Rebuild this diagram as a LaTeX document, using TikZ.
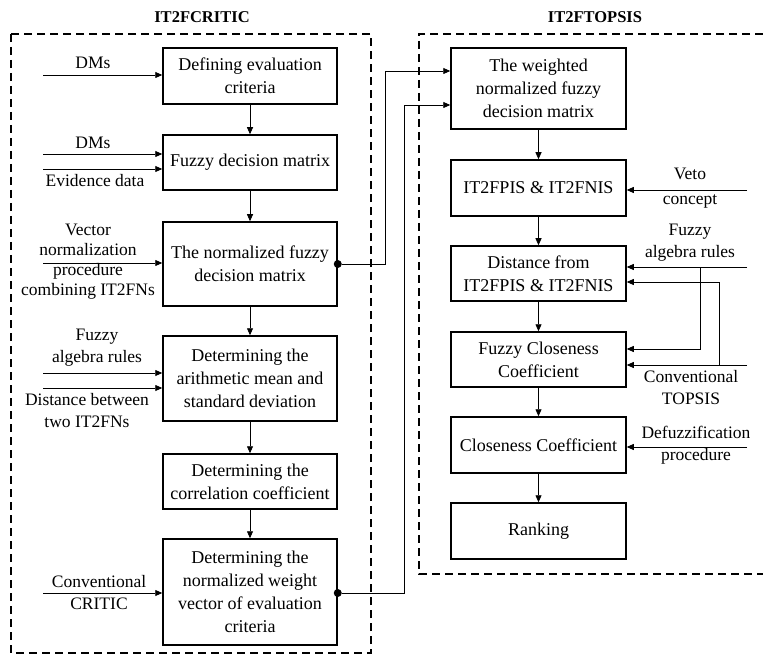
\documentclass[tikz,border=0pt]{standalone}
\usepackage{fontspec}
\setmainfont{Liberation Serif}
\usetikzlibrary{arrows.meta}
\begin{document}
\begin{tikzpicture}[x=1pt,y=-1pt,
  every node/.style={font=\fontsize{17.5}{22}\selectfont, inner sep=0pt},
  procbox/.style={draw, line width=1.5pt, align=center, minimum width=#1, font=\fontsize{18}{23}\selectfont},
  procbox/.default=174pt,
  lbl/.style={align=center},
  ttl/.style={font=\fontsize{16.5}{22}\selectfont\bfseries},
  arr/.style={line width=0.8pt, -{Triangle[length=7pt,width=6pt]}},
  link/.style={line width=0.8pt},
  group/.style={line width=1.4pt, dash pattern=on 8pt off 5pt},
  dot/.style={circle, fill, inner sep=0pt, minimum size=8pt}]
\useasboundingbox (0,0) rectangle (763,655);

% group frames
\draw[group] (11,34) rectangle (371,653);
\draw[group] (763,34) -- (419,34) -- (419,574) -- (763,574);
\node[ttl] (t1) at (202,17) {IT2FCRITIC};
\node[ttl] (t2) at (595,17) {IT2FTOPSIS};

% left boxes
\node[procbox, minimum height=56pt] (b1) at (250,76) {Defining evaluation\\criteria};
\node[procbox, minimum height=55pt] (b2) at (250,162.5) {Fuzzy decision matrix};
\node[procbox, minimum height=84pt] (b3) at (250,264) {The normalized fuzzy\\decision matrix};
\node[procbox, minimum height=85pt] (b4) at (250,378.5) {Determining the\\arithmetic mean and\\standard deviation};
\node[procbox, minimum height=55pt] (b5) at (250,481.5) {Determining the\\correlation coefficient};
\node[procbox, minimum height=106pt] (b6) at (250,592) {Determining the\\normalized weight\\vector of evaluation\\criteria};

% right boxes
\node[procbox=175pt, minimum height=81pt] (b7) at (538.5,88.5) {The weighted\\normalized fuzzy\\decision matrix};
\node[procbox=175pt, minimum height=56pt] (b8) at (538.5,188) {IT2FPIS \& IT2FNIS};
\node[procbox=175pt, minimum height=55pt] (b9) at (538.5,273.5) {Distance from\\IT2FPIS \& IT2FNIS};
\node[procbox=175pt, minimum height=55pt] (b10) at (538.5,359.5) {Fuzzy Closeness\\Coefficient};
\node[procbox=175pt, minimum height=56pt] (b11) at (538.5,445) {Closeness Coefficient};
\node[procbox=175pt, minimum height=56pt] (b12) at (538.5,531) {Ranking};

% vertical flow
\draw[arr] (b1) -- (b2);
\draw[arr] (b2) -- (b3);
\draw[arr] (b3) -- (b4);
\draw[arr] (b4) -- (b5);
\draw[arr] (b5) -- (b6);
\draw[arr] (b7) -- (b8);
\draw[arr] (b8) -- (b9);
\draw[arr] (b9) -- (b10);
\draw[arr] (b10) -- (b11);
\draw[arr] (b11) -- (b12);

% left inputs
\coordinate (i1) at (43,75);
\coordinate (i2) at (43,154);
\coordinate (i3) at (43,169);
\coordinate (i4) at (43,263);
\coordinate (i5) at (43,373);
\coordinate (i6) at (43,388);
\coordinate (i7) at (43,593);
\draw[arr] (i1) -- (i1 -| b1.west);
\draw[arr] (i2) -- (i2 -| b2.west);
\draw[arr] (i3) -- (i3 -| b2.west);
\draw[arr] (i4) -- (i4 -| b3.west);
\draw[arr] (i5) -- (i5 -| b4.west);
\draw[arr] (i6) -- (i6 -| b4.west);
\draw[arr] (i7) -- (i7 -| b6.west);

\node[lbl] (l1) at (93,63) {DMs};
\node[lbl] (l2) at (93,143) {DMs};
\node[lbl] (l3) at (95,181) {Evidence data};
\node[lbl, font=\fontsize{17.5}{20}\selectfont] (l4) at (88,262) {Vector\\normalization\\procedure\\combining IT2FNs};
\node[lbl] (l5) at (97,348) {Fuzzy\\algebra rules};
\node[lbl] (l6) at (87,410.5) {Distance between\\two IT2FNs};
\node[lbl] (l7) at (99,593) {Conventional\\CRITIC};

% links between groups
\node[dot] (d1) at (b3.east) {};
\node[dot] (d2) at (b6.east |- 0,593) {};
\coordinate (c1) at (385,71);
\coordinate (c2) at (404,105);
\draw[link] (d1) -| (c1);
\draw[arr] (c1) -- (c1 -| b7.west);
\draw[link] (d2) -| (c2);
\draw[arr] (c2) -- (c2 -| b7.west);

% right inputs
\coordinate (r1) at (747,190);
\coordinate (r2) at (747,267);
\coordinate (r3) at (747,365);
\coordinate (r4) at (747,447);
\coordinate (j1) at (700,267);
\coordinate (j2) at (719,365);
\coordinate (k1) at (700,349);
\coordinate (k2) at (719,282);
\draw[arr] (r1) -- (r1 -| b8.east);
\draw[arr] (r2) -- (r2 -| b9.east);
\draw[arr] (j1) -- (k1) -- (k1 -| b10.east);
\draw[arr] (r3) -- (r3 -| b10.east);
\draw[arr] (j2) -- (k2) -- (k2 -| b9.east);
\draw[arr] (r4) -- (r4 -| b11.east);

\node[lbl, font=\fontsize{17.5}{25}\selectfont] (m1) at (690,188.5) {Veto\\concept};
\node[lbl] (m2) at (690,243) {Fuzzy\\algebra rules};
\node[lbl] (m3) at (691,388) {Conventional\\TOPSIS};
\node[lbl] (m4) at (696,445) {Defuzzification\\procedure};
\end{tikzpicture}
\end{document}
